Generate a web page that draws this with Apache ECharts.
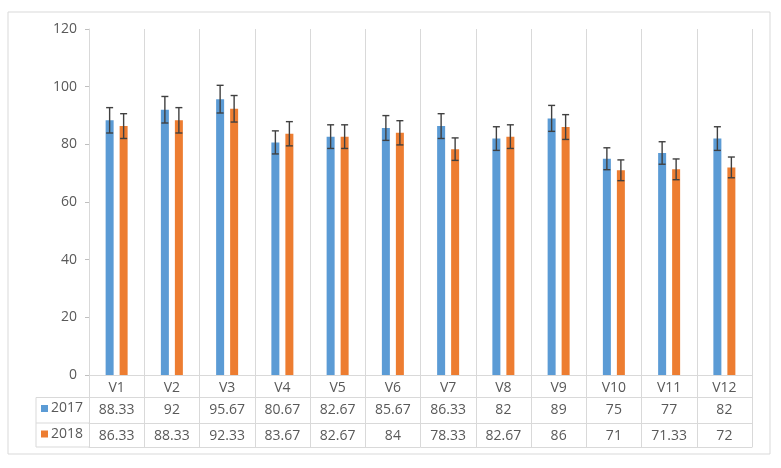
<!DOCTYPE html>
<html><head><meta charset="utf-8">
<script src="https://cdn.jsdelivr.net/npm/echarts@6/dist/echarts.min.js"></script>
<style>html,body{margin:0;padding:0;background:#fff}#c{width:781px;height:468px}</style>
</head><body><div id="c"></div>
<script>
const categories = ['V1','V2','V3','V4','V5','V6','V7','V8','V9','V10','V11','V12'];
const seriesNames = ['2017','2018'];
const values2017 = [88.33,92,95.67,80.67,82.67,85.67,86.33,82,89,75,77,82];
const values2018 = [86.33,88.33,92.33,83.67,82.67,84,78.33,82.67,86,71,71.33,72];
const errors2017 = [4.4,4.6,4.8,4.0,4.1,4.3,4.3,4.1,4.5,3.8,3.9,4.1];
const errors2018 = [4.3,4.4,4.6,4.2,4.1,4.2,3.9,4.1,4.3,3.6,3.6,3.6];
const yMin = 0, yMax = 120, yStep = 20;

const colors = ['#5B9BD5','#ED7D31'];
const textColor = '#595959';
const lineColor = '#d9d9d9';
const font = 'Open Sans';
const fs = 14;
const W = 781, H = 468;
const gridLeft = 89, gridRight = 29, gridTop = 29, gridBottom = 93;
const rowOffsets = [22.5, 48, 72];
const legendColLeft = 36;
const barW = 8, barGapPx = 6;
const half = (barW + barGapPx) / 2;
const axisY = H - gridBottom;

function errRenderer(offsetPx){
  return function(params, api){
    const i = api.value(0), v = api.value(1), e = api.value(2);
    const hi = api.coord([i, v + e]), lo = api.coord([i, v - e]);
    const x = hi[0] + offsetPx, cap = 3.5;
    const st = {stroke:'#404040', lineWidth:1.4};
    return {type:'group', children:[
      {type:'line', shape:{x1:x,y1:hi[1],x2:x,y2:lo[1]}, style:st},
      {type:'line', shape:{x1:x-cap,y1:hi[1],x2:x+cap,y2:hi[1]}, style:st},
      {type:'line', shape:{x1:x-cap,y1:lo[1],x2:x+cap,y2:lo[1]}, style:st}
    ]};
  };
}
function fmt(v){ return String(v); }

const baseLabel = {color:textColor, fontFamily:font, fontSize:fs, interval:0};
const rowAxis = (offset, arr) => ({
  type:'category', data:categories, position:'bottom', offset:offset,
  axisLine:{show:true, lineStyle:{color:lineColor}},
  axisTick:{show:false}, splitLine:{show:false},
  axisLabel: arr ? Object.assign({}, baseLabel, {margin:6, formatter:(val, idx)=>fmt(arr[idx])}) : {show:false}
});

const tableLines = rowOffsets.map(o => ({
  type:'line', shape:{x1:legendColLeft, y1:axisY+o, x2:gridLeft, y2:axisY+o},
  style:{stroke:lineColor, lineWidth:1}
}));
tableLines.push({type:'line', shape:{x1:legendColLeft, y1:axisY+rowOffsets[0], x2:legendColLeft, y2:axisY+rowOffsets[2]}, style:{stroke:lineColor, lineWidth:1}});

const chart = echarts.init(document.getElementById('c'), null, {renderer:'canvas'});
chart.setOption({
  animation:false,
  backgroundColor:'#fff',
  color: colors,
  grid:{left:gridLeft, right:gridRight, top:gridTop, bottom:gridBottom, containLabel:false},
  legend:{
    data: seriesNames, orient:'vertical', left:41, top:axisY+rowOffsets[0]+4,
    itemWidth:7, itemHeight:7, itemGap:11.5, icon:'rect', padding:0,
    textStyle:{color:textColor, fontFamily:font, fontSize:fs, lineHeight:14, padding:[0,0,0,-2]}
  },
  graphic: [
    {type:'rect', shape:{x:8, y:12, width:762, height:442}, style:{fill:'none', stroke:lineColor, lineWidth:1}, silent:true},
    ...tableLines
  ],
  xAxis:[
    {type:'category', data:categories, position:'bottom',
      axisLine:{show:true, lineStyle:{color:lineColor}},
      axisTick:{show:true, length:rowOffsets[2], lineStyle:{color:lineColor}},
      splitLine:{show:true, lineStyle:{color:lineColor}},
      axisLabel:Object.assign({}, baseLabel, {margin:6})},
    rowAxis(rowOffsets[0], values2017),
    rowAxis(rowOffsets[1], values2018),
    rowAxis(rowOffsets[2], null)
  ],
  yAxis:{type:'value', min:yMin, max:yMax, interval:yStep,
    axisLine:{show:true, lineStyle:{color:lineColor}},
    axisTick:{show:true, length:4, lineStyle:{color:'#bfbfbf'}},
    splitLine:{show:false},
    axisLabel:{color:textColor, fontFamily:font, fontSize:fs, margin:12}},
  series:[
    {name:seriesNames[0], type:'bar', data:values2017, barWidth:barW, barGap:(barGapPx/barW*100)+'%', xAxisIndex:0},
    {name:seriesNames[1], type:'bar', data:values2018, barWidth:barW, xAxisIndex:0},
    {name:seriesNames[0]+' err', type:'custom', xAxisIndex:0, z:5,
      renderItem:errRenderer(-half), data:values2017.map((v,i)=>[i, v, errors2017[i]])},
    {name:seriesNames[1]+' err', type:'custom', xAxisIndex:0, z:5,
      renderItem:errRenderer(half), data:values2018.map((v,i)=>[i, v, errors2018[i]])}
  ]
});
</script></body></html>
